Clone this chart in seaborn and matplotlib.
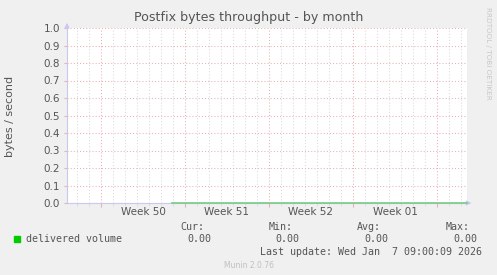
import matplotlib
matplotlib.use("Agg")
import matplotlib.pyplot as plt
import matplotlib.dates as mdates
import seaborn as sns
import pandas as pd
import numpy as np

# ---- data ----
times = ["2025-12-13 22:00", "2026-01-07 12:00"]
values = [0.0, 0.0]
series_name = "delivered volume"
stat_labels = ["Cur:", "Min:", "Avg:", "Max:"]
stat_values = ["0.00", "0.00", "0.00", "0.00"]
week_labels = ["Week 50", "Week 51", "Week 52", "Week 01"]
week_starts = ["2025-12-08", "2025-12-15", "2025-12-22", "2025-12-29", "2026-01-05"]
y_ticks = [0.0, 0.1, 0.2, 0.3, 0.4, 0.5, 0.6, 0.7, 0.8, 0.9, 1.0]
title = "Postfix bytes throughput - by month"
y_label = "bytes / second"
last_update = "Last update: Wed Jan  7 09:00:09 2026"
footer = "Munin 2.0.76"
watermark = "RRDTOOL / TOBI OETIKER"

df = pd.DataFrame({"time": pd.to_datetime(times), "value": values})

W, H = 497, 275
fig = plt.figure(figsize=(W / 100, H / 100), dpi=100, facecolor="#f0f0f0")
L, R, T, B = 67, 467, 28, 203
ax = fig.add_axes([L / W, 1 - B / H, (R - L) / W, (B - T) / H])
ax.set_facecolor("#ffffff")

TEXT = "#555555"
MAJ = "#ecb0b0"
MIN = "#dadada"
AXC = "#c8c8f0"

x_end = pd.Timestamp("2026-01-07 12:00")
x_start = x_end - pd.Timedelta(hours=800)
ax.set_xlim(x_start, x_end)
ax.set_ylim(0, 1)

# gridlines
ax.xaxis.set_major_locator(mdates.WeekdayLocator(byweekday=mdates.MO))
ax.xaxis.set_minor_locator(mdates.DayLocator())
ax.xaxis.set_major_formatter(plt.NullFormatter())
ax.set_yticks(y_ticks)
ax.set_yticklabels([f"{v:.1f}" for v in y_ticks])
ax.grid(which="major", axis="x", color=MAJ, linestyle=(0, (1, 2)), linewidth=0.75)
ax.grid(which="minor", axis="x", color=MIN, linestyle=(0, (1, 2)), linewidth=0.75)
ax.grid(which="major", axis="y", color=MAJ, linestyle=(0, (1, 2)), linewidth=0.75)
ax.set_axisbelow(True)

ax.tick_params(axis="y", which="major", length=2, color=MAJ, labelsize=7.5,
               labelcolor=TEXT, pad=3)
ax.tick_params(axis="x", which="major", length=3, color=MAJ, labelbottom=False)
ax.tick_params(axis="x", which="minor", length=2, color=MIN)

for s in ["top", "right"]:
    ax.spines[s].set_visible(False)
for s in ["left", "bottom"]:
    ax.spines[s].set_color(AXC)
    ax.spines[s].set_linewidth(0.8)

# data line
sns.lineplot(data=df, x="time", y="value", ax=ax, color="#78cc88",
             linewidth=1.2, legend=False, clip_on=False, zorder=5)
ax.set_xlabel("")
ax.set_ylabel("")

# week labels centered mid-week
ws = pd.to_datetime(week_starts)
for i, lab in enumerate(week_labels):
    mid = ws[i] + (ws[i + 1] - ws[i]) / 2
    ax.text(mdates.date2num(mid), -0.05, lab, transform=ax.get_xaxis_transform(),
            ha="center", va="center", fontsize=7.5, color=TEXT)

# arrows
ax.annotate("", xy=(0, 1.045), xytext=(0, 0.99), xycoords="axes fraction",
            arrowprops=dict(arrowstyle="-|>", color=AXC, lw=0.8,
                            mutation_scale=7), annotation_clip=False)
ax.annotate("", xy=(1.018, 0), xytext=(0.99, 0), xycoords="axes fraction",
            arrowprops=dict(arrowstyle="-|>", color=AXC, lw=0.8,
                            mutation_scale=7), annotation_clip=False)

def fx(px):
    return px / W

def fy(py):
    return 1 - py / H

fig.text(fx(249), fy(18), title, ha="center", va="center", fontsize=9.1,
         color=TEXT)
fig.text(fx(10), fy(116), y_label, ha="center", va="center", rotation=90,
         fontsize=8, color=TEXT)
fig.text(fx(488), fy(53), watermark, ha="center", va="center", rotation=270,
         fontsize=5.2, color="#c8c8c8")

MONO = "DejaVu Sans Mono"
FS = 7.2
# legend
fig.patches.append(plt.Rectangle((fx(14), fy(242)), 6 / W, 6 / H,
                                 transform=fig.transFigure, color="#00cc00"))
fig.text(fx(26), fy(239.5), series_name, ha="left", va="center",
         fontsize=FS, family=MONO, color=TEXT)
lab_right = [204, 293, 381, 470]
val_right = [211, 299, 388, 477]
for lab, v, lr, vr in zip(stat_labels, stat_values, lab_right, val_right):
    fig.text(fx(lr), fy(227.5), lab, ha="right", va="center", fontsize=FS,
             family=MONO, color=TEXT)
    fig.text(fx(vr), fy(239.5), v, ha="right", va="center", fontsize=FS,
             family=MONO, color=TEXT)
fig.text(fx(482), fy(252), last_update, ha="right", va="center", fontsize=FS,
         family=MONO, color=TEXT)
fig.text(fx(249), fy(265), footer, ha="center", va="center", fontsize=5.5,
         color="#c0c0c0")

fig.savefig("out.png", dpi=100, facecolor=fig.get_facecolor())
